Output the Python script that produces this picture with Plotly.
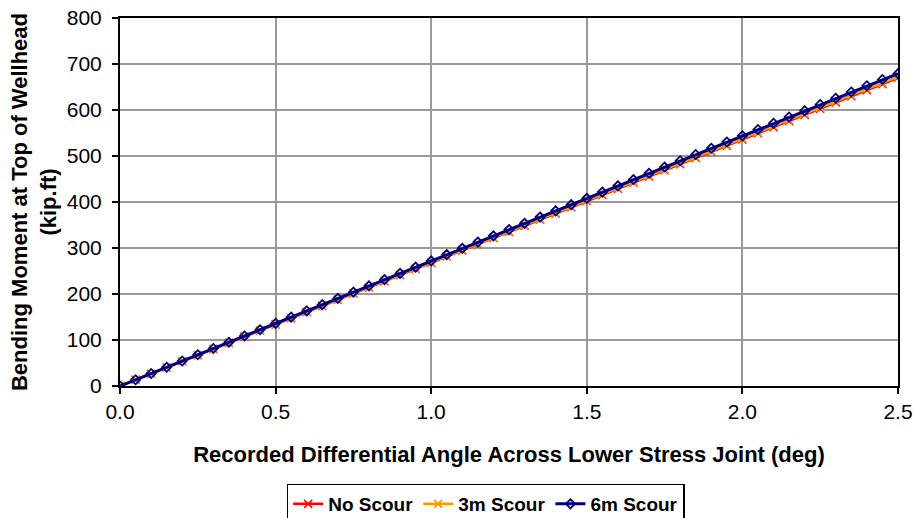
import plotly.graph_objects as go

angle = [0.00, 0.05, 0.10, 0.15, 0.20, 0.25, 0.30, 0.35, 0.40, 0.45,
         0.50, 0.55, 0.60, 0.65, 0.70, 0.75, 0.80, 0.85, 0.90, 0.95,
         1.00, 1.05, 1.10, 1.15, 1.20, 1.25, 1.30, 1.35, 1.40, 1.45,
         1.50, 1.55, 1.60, 1.65, 1.70, 1.75, 1.80, 1.85, 1.90, 1.95,
         2.00, 2.05, 2.10, 2.15, 2.20, 2.25, 2.30, 2.35, 2.40, 2.45, 2.50]

no_scour = [0, 13.4, 26.8, 40.2, 53.6, 67.0, 80.4, 93.8, 107.2, 120.6,
            134.0, 147.4, 160.8, 174.2, 187.6, 201.0, 214.4, 227.8, 241.2, 254.6,
            268.0, 281.4, 294.8, 308.2, 321.6, 335.0, 348.4, 361.8, 375.2, 388.6,
            402.0, 415.4, 428.8, 442.2, 455.6, 469.0, 482.4, 495.8, 509.2, 522.6,
            536.0, 549.4, 562.8, 576.2, 589.6, 603.0, 616.4, 629.8, 643.2, 656.6, 670.0]

scour_3m = [0, 13.4, 26.9, 40.4, 53.8, 67.2, 80.7, 94.2, 107.6, 121.0,
            134.5, 148.0, 161.4, 174.8, 188.3, 201.8, 215.2, 228.6, 242.1, 255.6,
            269.0, 282.4, 295.9, 309.4, 322.8, 336.2, 349.7, 363.2, 376.6, 390.0,
            403.5, 417.0, 430.4, 443.8, 457.3, 470.8, 484.2, 497.6, 511.1, 524.6,
            538.0, 551.4, 564.9, 578.4, 591.8, 605.2, 618.7, 632.2, 645.6, 659.0, 672.5]

scour_6m = [0, 13.6, 27.2, 40.8, 54.4, 68.0, 81.6, 95.2, 108.8, 122.4,
            136.0, 149.6, 163.2, 176.8, 190.4, 204.0, 217.6, 231.2, 244.8, 258.4,
            272.0, 285.6, 299.2, 312.8, 326.4, 340.0, 353.6, 367.2, 380.8, 394.4,
            408.0, 421.6, 435.2, 448.8, 462.4, 476.0, 489.6, 503.2, 516.8, 530.4,
            544.0, 557.6, 571.2, 584.8, 598.4, 612.0, 625.6, 639.2, 652.8, 666.4, 679.0]

series_names = ["No Scour", "3m Scour", "6m Scour"]

x_ticks = [0.0, 0.5, 1.0, 1.5, 2.0, 2.5]
x_tick_text = ["0.0", "0.5", "1.0", "1.5", "2.0", "2.5"]

FONT = "Liberation Sans, Arial, sans-serif"

fig = go.Figure()
fig.add_trace(go.Scatter(
    x=angle, y=no_scour, name=series_names[0], mode="lines+markers",
    line=dict(color="#FF0000", width=2.5),
    marker=dict(symbol="x-thin", size=8, line=dict(color="#FF0000", width=1.5)),
))
fig.add_trace(go.Scatter(
    x=angle, y=scour_3m, name=series_names[1], mode="lines+markers",
    line=dict(color="#FF9900", width=2.5),
    marker=dict(symbol="x-thin", size=8, line=dict(color="#FF9900", width=1.5)),
))
fig.add_trace(go.Scatter(
    x=angle, y=scour_6m, name=series_names[2], mode="lines+markers",
    line=dict(color="#000080", width=3),
    marker=dict(symbol="diamond-open", size=7,
                line=dict(color="#000080", width=1.8)),
))

fig.update_layout(
    width=915, height=518,
    margin=dict(l=120, r=17, t=18, b=132, autoexpand=False),
    paper_bgcolor="white", plot_bgcolor="white",
    font=dict(family=FONT, color="black", size=21),
    showlegend=True,
    legend=dict(
        orientation="h", x=0.47, xanchor="center", y=-0.265, yanchor="top",
        font=dict(family=FONT, size=19, color="black", weight="bold"),
        bordercolor="black", borderwidth=1.5, bgcolor="white",
        itemwidth=30, tracegroupgap=0,
    ),
    xaxis=dict(
        range=[0, 2.5], tickvals=x_ticks, ticktext=x_tick_text,
        automargin=False,
        showgrid=True, gridcolor="#999999", gridwidth=1.5,
        showline=True, linecolor="black", linewidth=2, mirror=True,
        ticks="outside", ticklen=6, tickcolor="black", tickwidth=1.5,
        zeroline=False,
        tickfont=dict(family=FONT, size=21),
        title=dict(text="<b>Recorded Differential Angle Across Lower Stress Joint (deg)</b>",
                   font=dict(family=FONT, size=22), standoff=24),
    ),
    yaxis=dict(
        range=[0, 800], dtick=100,
        automargin=False,
        showgrid=True, gridcolor="#999999", gridwidth=1.5,
        showline=True, linecolor="black", linewidth=2, mirror=True,
        ticks="outside", ticklen=6, tickcolor="black", tickwidth=1.5,
        ticklabelstandoff=6,
        zeroline=False,
        tickfont=dict(family=FONT, size=21),
        title=dict(text="<b>Bending Moment at Top of Wellhead<br>(kip.ft)</b>",
                   font=dict(family=FONT, size=22), standoff=4),
    ),
)

fig.write_html("out.html")
